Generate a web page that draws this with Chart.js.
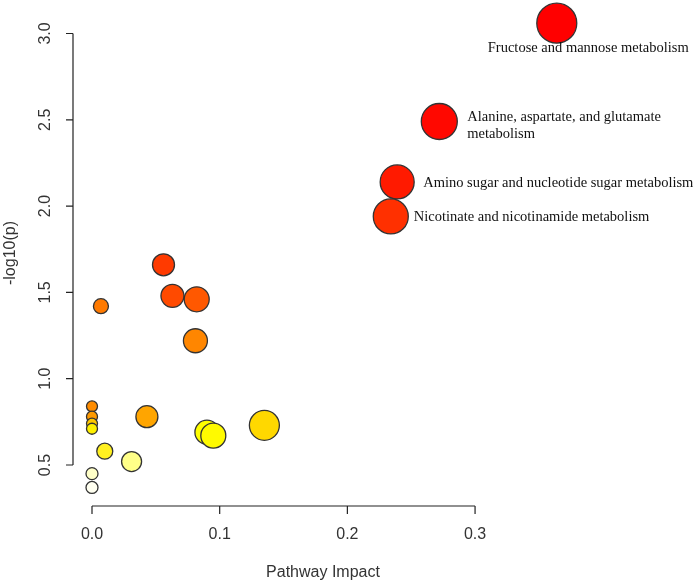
<!DOCTYPE html>
<html lang="en">
<head>
  <meta charset="UTF-8">
  <title>Pathway Impact</title>
  <script src="https://cdn.jsdelivr.net/npm/chart.js"></script>
  <style>
    body { margin: 0; background: #fff; }
    #chart-container { width: 699px; height: 584px; }
  </style>
</head>
<body>
  <div id="chart-container">
    <canvas id="pathwayChart" width="699" height="584"></canvas>
  </div>
  <script>
    // pathway impact (x), -log10(p) (y), bubble radius, fill colour
    const pathwayNames = [
      'Fructose and mannose metabolism',
      'Alanine, aspartate, and glutamate|metabolism',
      'Amino sugar and nucleotide sugar metabolism',
      'Nicotinate and nicotinamide metabolism',
      '', '', '', '', '', '', '', '', '', '', '', '', '', '', '', ''
    ];
    const impact = [0.364, 0.272, 0.239, 0.234, 0.056, 0.063, 0.082, 0.007, 0.081,
                    0.0, 0.0, 0.0, 0.0, 0.043, 0.090, 0.095, 0.135, 0.010, 0.031, 0.0, 0.0];
    const logP = [3.06, 2.49, 2.14, 1.94, 1.66, 1.48, 1.46, 1.42, 1.22,
                  0.84, 0.78, 0.74, 0.71, 0.78, 0.69, 0.67, 0.73, 0.58, 0.52, 0.45, 0.37];
    const bubbleR = [20, 18, 17, 17.5, 11, 11.5, 12.5, 7.5, 12,
                     5.5, 5.5, 5.5, 5.5, 11, 12, 12.5, 15, 8, 10, 6, 6];
    const bubbleColors = ['#FF0000', '#FF0800', '#FF1A00', '#FF3000', '#FF3A00', '#FF4A00', '#FF5800', '#FF7A00', '#FF8600',
                          '#FF8C00', '#FF9A00', '#FFC800', '#FFF000', '#FFA500', '#FFFF00', '#FFFA00', '#FFD800',
                          '#FFF020', '#FFFF88', '#FFFFC8', '#FFFFF0'];

    const xTicks = [0.0, 0.1, 0.2, 0.3];
    const yTicks = [0.5, 1.0, 1.5, 2.0, 2.5, 3.0];

    // label offsets from the bubble centre (px)
    const labelOffsets = [[-69, 25], [28, -4], [26, 1], [23, 1]];

    const points = impact.map((v, i) => ({ x: v, y: logP[i], r: bubbleR[i] }));

    // R-style detached axes, drawn from the chart's own scales
    const rAxes = {
      id: 'rAxes',
      beforeDatasetsDraw(chart) {
        const ctx = chart.ctx;
        const xs = chart.scales.x, ys = chart.scales.y;
        const area = chart.chartArea;
        ctx.save();
        ctx.strokeStyle = '#222';
        ctx.lineWidth = 1.2;
        ctx.fillStyle = '#333';
        ctx.font = '16px "Liberation Sans", Arial, sans-serif';

        // x axis
        const xb = area.bottom;
        ctx.beginPath();
        ctx.moveTo(xs.getPixelForValue(xTicks[0]), xb);
        ctx.lineTo(xs.getPixelForValue(xTicks[xTicks.length - 1]), xb);
        xTicks.forEach(t => {
          const px = xs.getPixelForValue(t);
          ctx.moveTo(px, xb);
          ctx.lineTo(px, xb + 8);
        });
        ctx.stroke();
        ctx.textAlign = 'center';
        ctx.textBaseline = 'middle';
        xTicks.forEach(t => ctx.fillText(t.toFixed(1), xs.getPixelForValue(t), xb + 29));
        ctx.fillText('Pathway Impact', (area.left + area.right) / 2, 573);

        // y axis
        const yl = area.left;
        ctx.beginPath();
        ctx.moveTo(yl, ys.getPixelForValue(yTicks[0]));
        ctx.lineTo(yl, ys.getPixelForValue(yTicks[yTicks.length - 1]));
        yTicks.forEach(t => {
          const py = ys.getPixelForValue(t);
          ctx.moveTo(yl, py);
          ctx.lineTo(yl - 7, py);
        });
        ctx.stroke();
        yTicks.forEach(t => {
          ctx.save();
          ctx.translate(46, ys.getPixelForValue(t));
          ctx.rotate(-Math.PI / 2);
          ctx.fillText(t.toFixed(1), 0, 0);
          ctx.restore();
        });
        ctx.save();
        ctx.translate(11, (area.top + area.bottom) / 2);
        ctx.rotate(-Math.PI / 2);
        ctx.fillText('-log10(p)', 0, 0);
        ctx.restore();
        ctx.restore();
      },
      afterDatasetsDraw(chart) {
        const ctx = chart.ctx;
        const meta = chart.getDatasetMeta(0);
        ctx.save();
        ctx.fillStyle = '#111';
        ctx.font = '14.5px "Liberation Serif", "Times New Roman", serif';
        ctx.textAlign = 'left';
        ctx.textBaseline = 'middle';
        pathwayNames.forEach((name, i) => {
          if (!name) return;
          const el = meta.data[i];
          const [dx, dy] = labelOffsets[i];
          name.split('|').forEach((line, k) => {
            ctx.fillText(line, el.x + dx, el.y + dy + k * 17);
          });
        });
        ctx.restore();
      }
    };

    const ctx = document.getElementById('pathwayChart').getContext('2d');
    new Chart(ctx, {
      type: 'bubble',
      data: {
        datasets: [{
          label: 'Pathways',
          data: points,
          backgroundColor: bubbleColors,
          borderColor: '#333',
          borderWidth: 1.3,
          clip: false
        }]
      },
      options: {
        responsive: false,
        animation: false,
        events: [],
        layout: { autoPadding: false, padding: { left: 73, right: 126, top: 0, bottom: 78 } },
        scales: {
          x: { type: 'linear', min: -0.01488, max: 0.3767, display: false },
          y: { type: 'linear', min: 0.2625, max: 3.194, display: false }
        },
        plugins: {
          legend: { display: false },
          tooltip: { enabled: false }
        }
      },
      plugins: [rAxes]
    });
  </script>
</body>
</html>
